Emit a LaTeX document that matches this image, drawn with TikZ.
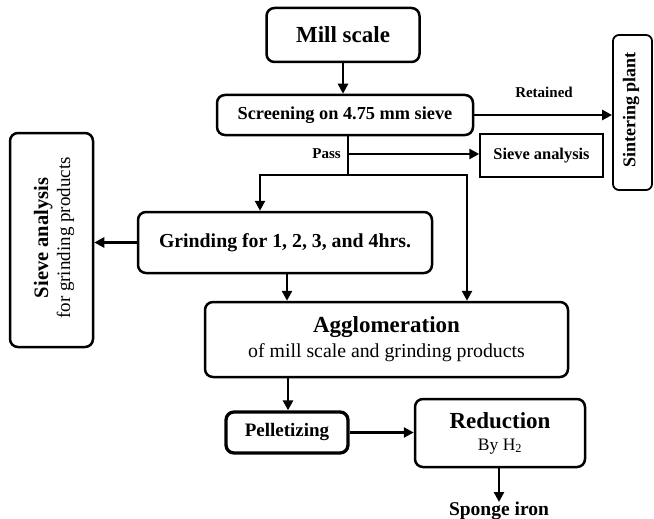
\documentclass[tikz,border=0pt]{standalone}
\usepackage{fontspec}
\setmainfont{Liberation Serif}
\usetikzlibrary{arrows.meta}
\begin{document}
\begin{tikzpicture}[x=1pt,y=-1pt,
  box/.style={draw=black,line width=2.5pt,rounded corners=8pt,align=center,inner sep=0pt},
  thinbox/.style={draw=black,line width=1.4pt,align=center,inner sep=0pt},
  arr/.style={line width=2.5pt,-{Triangle[length=10pt,width=10pt]}},
  ln/.style={line width=2.5pt},
  lbl/.style={font=\bfseries\fontsize{15}{17}\selectfont,inner sep=0pt}]
\useasboundingbox (0,0) rectangle (654,519);
\node[box,minimum width=153pt,minimum height=54pt,font=\bfseries\fontsize{23}{26}\selectfont] (mill) at (343,35) {Mill scale};
\node[box,minimum width=256pt,minimum height=40pt,font=\bfseries\fontsize{18.3}{20}\selectfont] (screen) at (345,115) {Screening on 4.75 mm sieve};
\node[box,rounded corners=6pt,line width=1.8pt,minimum width=39pt,minimum height=155pt] (sinter) at (632.5,112.5) {};
\node[rotate=90,font=\bfseries\fontsize{18}{20}\selectfont,inner sep=0pt] (sintertxt) at (631,110) {Sintering plant};
\node[thinbox,minimum width=123pt,minimum height=43pt,font=\bfseries\fontsize{16.4}{18}\selectfont] (sieve) at (541.5,155.5) {Sieve analysis};
\node[box,minimum width=83pt,minimum height=214pt] (sieveg) at (51.5,240) {};
\node[rotate=90,align=center,inner sep=0pt,font=\fontsize{19}{22}\selectfont] (sievegtxt) at (54,238) {{\bfseries\fontsize{20.5}{22}\selectfont Sieve analysis}\\for grinding products};
\node[box,minimum width=294pt,minimum height=61pt,font=\bfseries\fontsize{19.8}{22}\selectfont] (grind) at (285,242.5) {Grinding for 1, 2, 3, and 4hrs.};
\node[box,minimum width=363pt,minimum height=75pt,font=\fontsize{19.8}{25}\selectfont] (aggl) at (386.5,339.5) {{\bfseries\fontsize{23}{25}\selectfont Agglomeration}\\of mill scale and grinding products};
\node[box,line width=3.3pt,minimum width=122pt,minimum height=41pt,font=\bfseries\fontsize{19}{21}\selectfont] (pellet) at (287,432.5) {Pelletizing};
\node[box,minimum width=170pt,minimum height=68pt,font=\fontsize{17.5}{22}\selectfont] (reduc) at (500,433) {{\bfseries\fontsize{23}{22}\selectfont Reduction}\\By H\textsubscript{2}};
\node[inner sep=0pt,font=\bfseries\fontsize{19.5}{21}\selectfont,anchor=north] (sponge) at (499,502) {Sponge iron};
% labels
\node[lbl] (retl) at (544,92) {Retained};
\node[lbl,anchor=east] (passl) at (341,154) {Pass};
% coordinates
\coordinate (pj) at (348,175);
\coordinate (pp) at (348,154);
\coordinate (gl) at (260,175);
\coordinate (gr) at (467,175);
\coordinate (gd) at (287,0);
\coordinate (ad) at (288,0);
% connectors
\draw[arr] (mill.south) -- (mill.south |- screen.north);
\draw[arr] (screen.east) -- (sinter.west |- screen.east);
\draw[ln] (screen.south -| pj) -- (pj);
\draw[arr] (pp) -- (sieve.west |- pp);
\draw[arr] (pj) -| (gl |- grind.north);
\draw[arr] (pj) -| (gr |- aggl.north);
\draw[arr] (grind.west) -- (sieveg.east |- grind.west);
\draw[arr] (gd |- grind.south) -- (gd |- aggl.north);
\draw[arr] (ad |- aggl.south) -- (ad |- pellet.north);
\draw[arr] (pellet.east) -- (reduc.west |- pellet.east);
\draw[arr] (reduc.south -| sponge.north) -- (sponge.north);
\end{tikzpicture}
\end{document}
